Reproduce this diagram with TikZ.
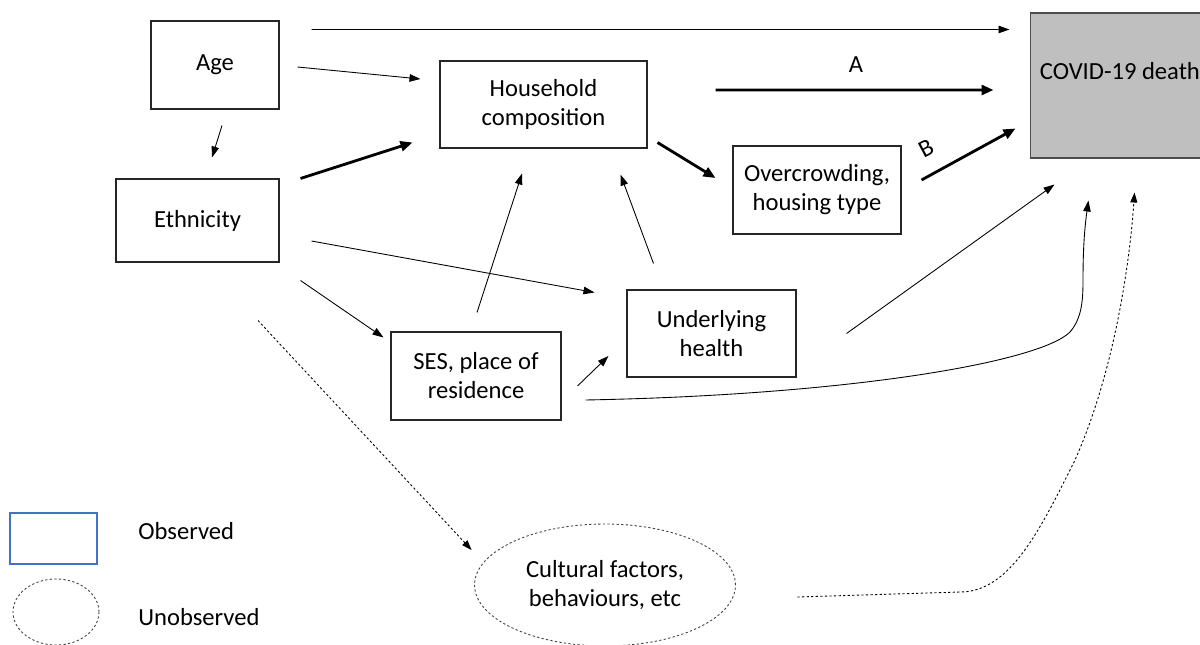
\documentclass[tikz,border=0pt]{standalone}
\usepackage{fontspec}
\setmainfont{Carlito}
\usetikzlibrary{arrows.meta,shapes.geometric}
\definecolor{legendblue}{HTML}{4472C4}

\begin{document}
\begin{tikzpicture}[x=0.02cm,y=-0.02cm,
		font=\fontsize{14}{16.5}\selectfont,
		obsbox/.style={draw=black!85,line width=0.6pt,align=center,inner sep=0pt},
		unobs/.style={ellipse,draw=black!75,line width=0.5pt,dash pattern=on 1.3pt off 1.3pt,align=center,inner sep=0pt},
		thinarrow/.style={line width=0.5pt,-{Triangle[length=2.2mm,width=1.5mm]}},
		thickarrow/.style={line width=1.6pt,-{Triangle[length=2.4mm,width=2mm]}},
		dasharrow/.style={line width=0.5pt,dash pattern=on 1.3pt off 1.3pt,-{Triangle[length=2mm,width=1.4mm]}}]
		\useasboundingbox (0,0) rectangle (1200,645);
		\node[obsbox,minimum width=2.56cm,minimum height=1.76cm] (age) at (215,65) {Age};
		\node[obsbox,minimum width=3.26cm,minimum height=1.66cm] (eth) at (197.5,220.5) {Ethnicity};
		\node[obsbox,minimum width=4.14cm,minimum height=1.74cm] (hh) at (543.5,104.5) {Household\\composition};
		\node[obsbox,minimum width=3.36cm,minimum height=1.76cm] (crowd) at (817,190) {Overcrowding,\\housing type};
		\node[obsbox,minimum width=3.38cm,minimum height=1.74cm] (health) at (711.5,333.5) {Underlying\\health};
		\node[obsbox,minimum width=3.4cm,minimum height=1.76cm] (ses) at (476,376) {SES, place of\\residence};
		\node[draw=black!70,line width=0.6pt,fill=black!25,minimum width=4cm,minimum height=2.9cm] (covid) at (1130,85.5) {};
		\node[anchor=west,inner sep=0pt] (covidtext) at ([shift={(10,-14.5)}]covid.west) {COVID-19 death};
		\node[unobs,minimum width=5.22cm,minimum height=2.44cm] (cult) at (605,585) {Cultural factors,\\behaviours, etc};
		\node[draw=legendblue,line width=0.6pt,minimum width=1.74cm,minimum height=1.02cm] (legobs) at (53.5,538.5) {};
		\node[unobs,minimum width=1.72cm,minimum height=1.32cm] (legunobs) at (56,612) {};
		\node[anchor=west,inner sep=0pt] (legobstext) at (138,531) {Observed};
		\node[anchor=west,inner sep=0pt] (legunobstext) at (138,617) {Unobserved};
		\draw[thinarrow] ([shift={(32,9)}]age.north east) -- ([shift={(-20,17)}]covid.north west);
		\draw[thinarrow] ([shift={(18,2)}]age.east) -- ([shift={(-19,-25.5)}]hh.west);
		\draw[thinarrow] ([shift={(7,16)}]age.south) -- ([shift={(14.5,-21)}]eth.north);
		\draw[thickarrow] ([shift={(21,0)}]eth.north east) -- ([shift={(-27,-6)}]hh.south west);
		\draw[thickarrow] ([shift={(68,-14.5)}]hh.east) -- ([shift={(-36,4.5)}]covid.west);
		\node (lblA) at (856,65) {A};
		\draw[thickarrow] ([shift={(10,-6)}]hh.south east) -- ([shift={(-17,-12)}]crowd.west);
		\draw[thickarrow] ([shift={(20,-10)}]crowd.east) -- ([shift={(-14,-30)}]covid.south west);
		\node[rotate=28] (lblB) at (926,148) {B};
		\draw[thinarrow] ([shift={(32,20.5)}]eth.east) -- ([shift={(-32,3)}]health.north west);
		\draw[thinarrow] ([shift={(21,18)}]eth.south east) -- ([shift={(-7,6)}]ses.north west);
		\draw[thinarrow] ([shift={(1,-19)}]ses.north) -- ([shift={(-21.5,25)}]hh.south);
		\draw[thinarrow] ([shift={(27,-26)}]health.north west) -- ([shift={(-27,26)}]hh.south east);
		\draw[thinarrow] ([shift={(16,10)}]ses.east) -- ([shift={(-18,22.5)}]health.west);
		\draw[thinarrow] ([shift={(50,0)}]health.east) -- ([shift={(25,26)}]covid.south west);
		\draw[thinarrow] ([shift={(24,24)}]ses.east) .. controls (850,395) and (1040,362) .. (1070,332) .. controls (1082,318) and (1083,300) .. (1083,280) .. controls (1083,245) and (1085,225) .. ([shift={(59,42)}]covid.south west);
		\draw[dasharrow] ([shift={(60.5,58)}]eth.south) -- ([shift={(-2.5,-35)}]cult.west);
		\draw[dasharrow] ([shift={(61.5,12)}]cult.east) -- (960,592) .. controls (1010,592) and (1040,530) .. (1075,460) .. controls (1115,370) and (1130,260) .. ([shift={(105,34)}]covid.south west);
		\end{tikzpicture}
\end{document}
